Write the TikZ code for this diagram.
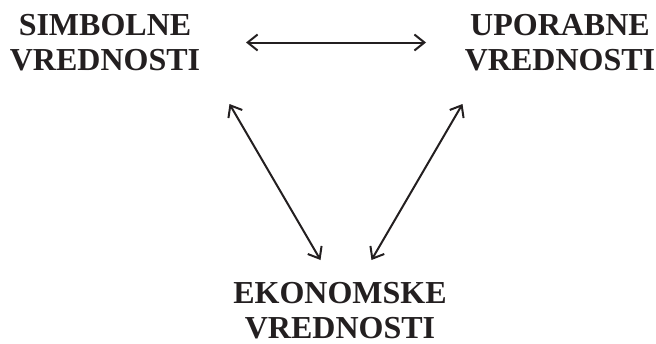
\documentclass[tikz,border=0pt]{standalone}
\usepackage{fontspec}
\setmainfont{Liberation Serif}
\usetikzlibrary{arrows.meta}
\definecolor{ink}{HTML}{231F20}

\begin{document}
\begin{tikzpicture}[x=1pt,y=-1pt,
    vrednost/.style={align=center,inner sep=0pt,anchor=north,text=ink,
      font=\fontsize{32}{35}\selectfont\bfseries},
    pfeil/.style={draw=ink,line width=2pt,
      {Straight Barb[length=10pt,width=16pt]}-{Straight Barb[length=10pt,width=16pt]}}]
    \useasboundingbox (0,0) rectangle (656,343);

    \node[vrednost] (simb) at (105,14.5) {SIMBOLNE\\VREDNOSTI};
    \node[vrednost] (upor) at (560,14.5) {UPORABNE\\VREDNOSTI};
    \node[vrednost] (ekon) at (340,282) {EKONOMSKE\\VREDNOSTI};

    \coordinate (s1) at (246,42.5);
    \coordinate (u1) at (426,42.5);
    \coordinate (s2) at (229.5,104);
    \coordinate (u2) at (462.5,104);
    \coordinate (e1) at (320.5,260);
    \coordinate (e2) at (371.5,260);

    \draw[pfeil] (s1) -- (u1);
    \draw[pfeil] (s2) -- (e1);
    \draw[pfeil] (u2) -- (e2);
\end{tikzpicture}
\end{document}
